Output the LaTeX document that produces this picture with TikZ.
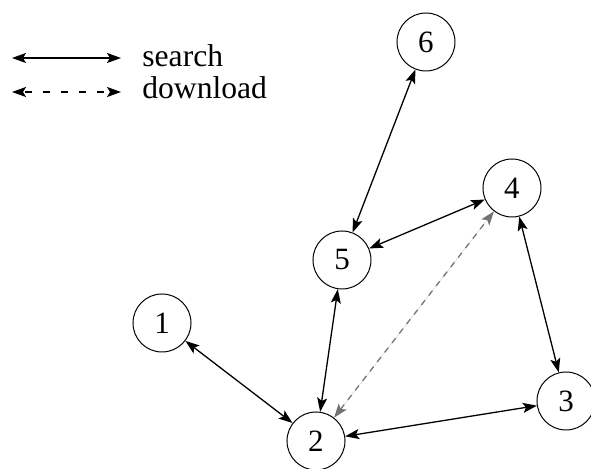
\documentclass[tikz,border=0pt]{standalone}
\usepackage{fontspec}
\setmainfont{Liberation Serif}
\usetikzlibrary{arrows.meta}
\begin{document}
\begin{tikzpicture}[x=0.5pt,y=-0.5pt,
  peer/.style={circle,draw,line width=0.5pt,minimum size=29pt,inner sep=0pt,
    font=\fontsize{15.5}{18}\selectfont},
  link/.style={line width=0.65pt,{Stealth[length=7pt,width=5pt,inset=1.5pt]}-{Stealth[length=7pt,width=5pt,inset=1.5pt]}},
  dl/.style={link,dash pattern=on 3.5pt off 5.5pt},
  lbl/.style={anchor=west,inner sep=0pt,font=\fontsize{15.8}{18}\selectfont}]
\useasboundingbox (0,0) rectangle (591,469);

% legend
\coordinate (sa) at (12,58);
\coordinate (sb) at (121,58);
\coordinate (da) at (12,92);
\coordinate (db) at (121,92);
\draw[link] (sa) -- (sb);
\draw[dl,dash phase=-1pt] (da) -- (db);
\node[lbl] (ls) at (142,56) {search};
\node[lbl] (ld) at (142,88) {download};

% peers
\node[peer] (n6) at (426,42) {6};
\node[peer] (n4) at (512,188) {4};
\node[peer] (n5) at (342,260) {5};
\node[peer] (n1) at (162,323) {1};
\node[peer] (n2) at (316,441) {2};
\node[peer] (n3) at (566,401) {3};

% search links
\draw[link] (n6) -- (n5);
\draw[link] (n5) -- (n4);
\draw[link] (n4) -- (n3);
\draw[link] (n5) -- (n2);
\draw[link] (n1) -- (n2);
\draw[link] (n2) -- (n3);
% download link
\draw[dl,dash pattern=on 3pt off 3pt,draw=black!55,fill=black!55] (n2) -- (n4);
\end{tikzpicture}
\end{document}
